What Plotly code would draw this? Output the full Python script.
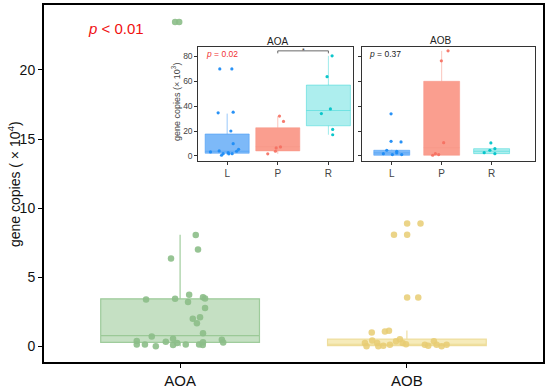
import plotly.graph_objects as go

W, H = 550, 389

# ---------------- main chart data ----------------
main_groups = ["AOA", "AOB"]
main_q1 = [0.29, 0.05]
main_median = [0.77, 0.15]
main_q3 = [3.44, 0.52]
main_lower = [0.0, 0.0]
main_upper = [8.08, 1.15]

aoa_values = [8.05, 7.0, 6.36, 3.39, 3.44, 3.73, 3.2, 3.56, 3.46, 2.77, 2.0, 2.1, 1.67, 0.95,
              0.72, 0.55, 0.38, 0.14, 0.14, 0.0, 0.34, 0.1, 0.24, 0.14, 0.14, 0.1, 0.3, 0.48,
              0.27, 23.46, 23.46]
aoa_jitter = [0.069, 0.079, -0.040, -0.150, -0.022, 0.040, 0.035, 0.101, 0.110, 0.110, 0.056,
              0.088, 0.074, 0.101, -0.125, -0.031, -0.191, -0.191, -0.155, -0.107, -0.063,
              -0.031, -0.013, 0.025, 0.084, 0.100, 0.101, 0.184, 0.190, -0.022, -0.004]

aob_values = [8.89, 8.89, 8.08, 8.08, 3.53, 3.53, 1.0, 1.08, 1.12, 0.24, 0.0, 0.43, 0.24, 0.0,
              0.05, 0.12, 0.36, 0.52, 0.24, 0.16, 0.12, 0.05, 0.36, 0.12, 0.0, 0.12]
aob_jitter = [0.001, 0.060, -0.057, 0.001, 0.001, 0.050, -0.155, -0.097, -0.079, -0.185,
              -0.178, -0.153, -0.131, -0.126, -0.104, -0.075, -0.048, -0.031, -0.019, -0.004,
              0.079, 0.094, 0.119, 0.131, 0.153, 0.175]

main_y_ticks = [0, 5, 10, 15, 20]
main_p_text = "<i>p</i> &lt; 0.01"

# ---------------- inset data ----------------
sites = ["L", "P", "R"]

aoa_in_q1 = [2.1, 4.0, 24.2]
aoa_in_median = [3.7, 7.4, 36.5]
aoa_in_q3 = [17.6, 22.6, 57.0]
aoa_in_lower = [0.5, 1.6, 17.0]
aoa_in_upper = [34.0, 32.0, 80.5]

aoa_L_vals = [70, 70, 34.6, 35.2, 20, 9.8, 4, 5.3, 1.8, 2.6, 1.8, 0.5, 3.7, 3.2, 1.6]
aoa_L_jit = [-0.145, 0.093, -0.178, 0.119, 0.073, 0.119, -0.158, 0.226, -0.079, 0.020, 0.099,
             -0.111, 0.186, -0.329, 0.034]
aoa_P_vals = [32, 27.7, 7.2, 6.4, 3.7, 1.6]
aoa_P_jit = [0.034, 0.113, 0.053, -0.032, -0.046, -0.198]
aoa_R_vals = [80.5, 63.7, 37.8, 34, 21.3, 17]
aoa_R_jit = [0.073, -0.026, 0.040, -0.139, 0.085, 0.085]

aob_in_q1 = [0.5, 0.5, 1.8]
aob_in_median = [2.4, 6.6, 3.7]
aob_in_q3 = [4.5, 60.0, 5.8]
aob_in_lower = [0.5, 0.5, 1.8]
aob_in_upper = [5.0, 84.5, 5.8]

aob_L_vals = [33.8, 11.7, 11.2, 4.5, 3.7, 1.8, 1.0, 1.0, 2.4]
aob_L_jit = [-0.014, -0.014, 0.186, -0.1, 0.1, -0.168, 0.012, 0.2, 0.1]
aob_P_vals = [84.5, 76.5, 10.6, 0.5, 1.0, 1.8]
aob_P_jit = [0.128, -0.006, 0.04, -0.18, -0.06, -0.126]
aob_R_vals = [10.4, 5.8, 4.5, 2.6, 1.8]
aob_R_jit = [-0.014, 0.066, -0.034, -0.148, 0.066]

inset_y_ticks = [0, 20, 40, 60, 80]
aoa_p_text = "<i>p</i> = 0.02"
aob_p_text = "<i>p</i> = 0.37"
sig_pair = (1, 2)          # P vs R
sig_height = 84.5
sig_label = "*"

# ---------------- styles ----------------
FONT = "Arial, Liberation Sans, sans-serif"
main_fill = ["rgba(150,198,146,0.55)", "rgba(240,222,140,0.6)"]
main_line = ["rgba(150,198,146,0.9)", "rgba(235,215,140,0.8)"]
main_pt = ["rgba(140,190,136,0.9)", "rgba(232,205,115,0.85)"]

site_fill = ["rgba(70,155,245,0.7)", "rgba(248,120,100,0.72)", "rgba(40,210,210,0.38)"]
site_line = ["rgba(70,155,245,0.55)", "rgba(248,150,135,0.55)", "rgba(40,210,210,0.45)"]
site_pt = ["rgba(30,140,245,0.95)", "rgba(245,110,95,0.9)", "rgba(0,195,200,0.95)"]


def px_x(p):
    return p / W


def px_y(p):
    return 1 - p / H


fig = go.Figure()

# main boxes
for i, g in enumerate(main_groups):
    fig.add_trace(go.Box(
        x=[i], q1=[main_q1[i]], median=[main_median[i]], q3=[main_q3[i]],
        lowerfence=[main_lower[i]], upperfence=[main_upper[i]],
        width=0.7, whiskerwidth=0, fillcolor=main_fill[i],
        line=dict(color=main_line[i], width=1.2), boxpoints=False,
        xaxis="x", yaxis="y", showlegend=False, hoverinfo="skip"))

fig.add_trace(go.Scatter(
    x=[0 + j for j in aoa_jitter], y=aoa_values, mode="markers",
    marker=dict(size=6.5, color=main_pt[0]), xaxis="x", yaxis="y", showlegend=False))
fig.add_trace(go.Scatter(
    x=[1 + j for j in aob_jitter], y=aob_values, mode="markers",
    marker=dict(size=6.5, color=main_pt[1]), xaxis="x", yaxis="y", showlegend=False))


# inset panels
def add_panel(xa, ya, q1, med, q3, lo, up, width, vals, jits):
    for i in range(3):
        fig.add_trace(go.Box(
            x=[i], q1=[q1[i]], median=[med[i]], q3=[q3[i]],
            lowerfence=[lo[i]], upperfence=[up[i]],
            width=width, whiskerwidth=0, fillcolor=site_fill[i],
            line=dict(color=site_line[i], width=1), boxpoints=False,
            xaxis=xa, yaxis=ya, showlegend=False, hoverinfo="skip"))
        fig.add_trace(go.Scatter(
            x=[i + j for j in jits[i]], y=vals[i], mode="markers",
            marker=dict(size=3.2, color=site_pt[i]),
            xaxis=xa, yaxis=ya, showlegend=False))


add_panel("x2", "y2", aoa_in_q1, aoa_in_median, aoa_in_q3, aoa_in_lower, aoa_in_upper, 0.87,
          [aoa_L_vals, aoa_P_vals, aoa_R_vals], [aoa_L_jit, aoa_P_jit, aoa_R_jit])
add_panel("x3", "y3", aob_in_q1, aob_in_median, aob_in_q3, aob_in_lower, aob_in_upper, 0.72,
          [aob_L_vals, aob_P_vals, aob_R_vals], [aob_L_jit, aob_P_jit, aob_R_jit])

# significance bracket
a, b = sig_pair
fig.add_trace(go.Scatter(
    x=[a, a, b, b], y=[sig_height - 2, sig_height, sig_height, sig_height - 2],
    mode="lines", line=dict(color="#444", width=0.8), xaxis="x2", yaxis="y2",
    showlegend=False, hoverinfo="skip"))

# domains
main_dom_x = [px_x(44), px_x(543)]
main_dom_y = [px_y(366), px_y(5)]
ins_dom_y = [px_y(162.5), px_y(47)]

line_common = dict(showline=True, linecolor="#333", linewidth=1, mirror=True,
                   showgrid=False, zeroline=False, ticks="outside", ticklen=3,
                   tickcolor="#333", tickwidth=1)
ins_tickfont_y = dict(family=FONT, size=8.5, color="#444")
ins_tickfont_x = dict(family=FONT, size=10, color="#444")

fig.update_layout(
    width=W, height=H, margin=dict(l=0, r=0, t=0, b=0),
    paper_bgcolor="white", plot_bgcolor="white",
    font=dict(family=FONT, color="black"),
    xaxis=dict(domain=main_dom_x, range=[-0.6, 1.6], tickvals=[0, 1], ticktext=main_groups,
               showline=True, linecolor="black", linewidth=2, mirror=True, showgrid=False,
               zeroline=False, ticks="outside", ticklen=4, tickcolor="black",
               tickfont=dict(family=FONT, size=15, color="#111"), anchor="y"),
    yaxis=dict(domain=main_dom_y, range=[-1.15, 24.7], tickvals=main_y_ticks,
               showline=True, linecolor="black", linewidth=2, mirror=True, showgrid=False,
               zeroline=False, ticks="outside", ticklen=4, tickcolor="black",
               tickfont=dict(family=FONT, size=14, color="#111"), anchor="x"),
    xaxis2=dict(domain=[px_x(198.3), px_x(352.7)], range=[-0.57, 2.48], tickvals=[0, 1, 2],
                ticktext=sites, anchor="y2", tickfont=ins_tickfont_x, **line_common),
    yaxis2=dict(domain=ins_dom_y, range=[-4, 88], tickvals=inset_y_ticks, anchor="x2",
                tickfont=ins_tickfont_y, **line_common),
    xaxis3=dict(domain=[px_x(362.3), px_x(535)], range=[-0.59, 2.87], tickvals=[0, 1, 2],
                ticktext=sites, anchor="y3", tickfont=ins_tickfont_x, **line_common),
    yaxis3=dict(domain=ins_dom_y, range=[-4, 88], tickvals=inset_y_ticks, anchor="x3",
                showticklabels=False, **line_common),
)

P = dict(xref="paper", yref="paper", showarrow=False)
ann = [
    dict(x=px_x(86), y=px_y(29), text=main_p_text, xanchor="left",
         yanchor="middle", font=dict(family=FONT, size=15, color="#f01010"), **P),
    dict(x=px_x(14), y=px_y(186), text="gene copies ( × 10<sup>4</sup>)", textangle=-90,
         xanchor="center", yanchor="middle",
         font=dict(family=FONT, size=14, color="#111"), **P),
    dict(x=px_x(176), y=px_y(103), text="gene copies (× 10<sup>3</sup>)", textangle=-90,
         xanchor="center", yanchor="middle",
         font=dict(family=FONT, size=9, color="#444"), **P),
    dict(x=px_x(277), y=px_y(42), text="AOA", xanchor="center",
         yanchor="middle", font=dict(family=FONT, size=10, color="#222"), **P),
    dict(x=px_x(441), y=px_y(41), text="AOB", xanchor="center",
         yanchor="middle", font=dict(family=FONT, size=10, color="#222"), **P),
    dict(x=px_x(204), y=px_y(55), text=aoa_p_text, xanchor="left",
         yanchor="middle", font=dict(family=FONT, size=8.5, color="#f03030"), **P),
    dict(x=px_x(367), y=px_y(55), text=aob_p_text, xanchor="left",
         yanchor="middle", font=dict(family=FONT, size=8.5, color="#222"), **P),
    dict(x=(a + b) / 2, y=sig_height + 0.5, xref="x2", yref="y2", text=sig_label,
         showarrow=False, xanchor="center", yanchor="middle",
         font=dict(family=FONT, size=7, color="#333")),
]
fig.update_layout(annotations=ann)

fig.write_html("out.html", config={"displayModeBar": False},
               post_script="document.body.style.margin='0';document.body.style.overflow='hidden';")
